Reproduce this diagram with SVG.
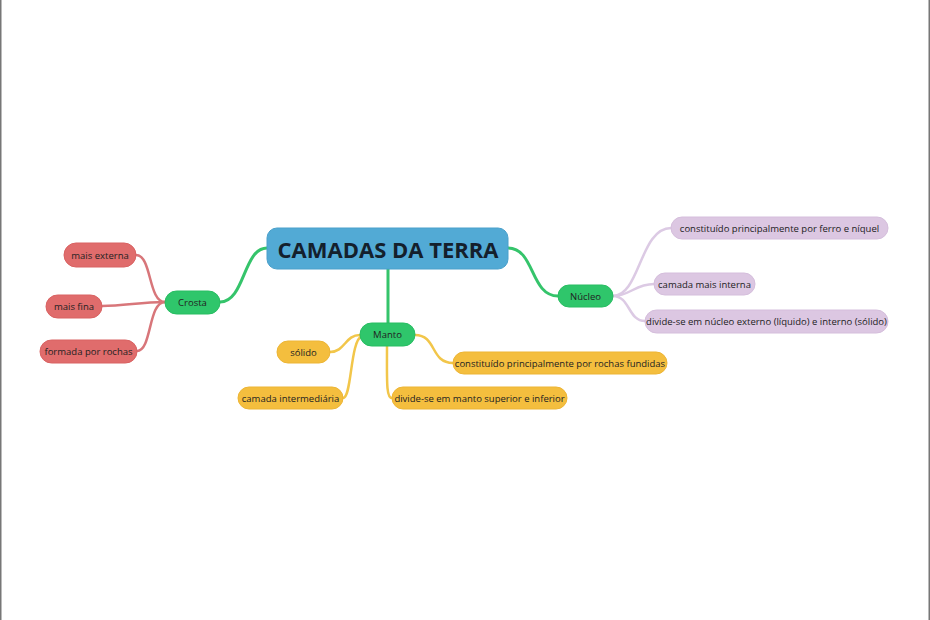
<svg xmlns="http://www.w3.org/2000/svg" width="930" height="620" viewBox="0 0 930 620">
<style>
  text { font-family: "Open Sans", "Noto Sans", "DejaVu Sans", sans-serif; fill: #222; text-anchor: middle; }
  .t { font-size: 9.5px; }
  .title { font-size: 22px; font-weight: bold; fill: #14202c; }
  .red { fill: #E06C6C; stroke: #D96262; stroke-width: 1; }
  .yel { fill: #F4BE3E; stroke: #EDB535; stroke-width: 1; }
  .pur { fill: #DCC7E2; stroke: #D5BEDC; stroke-width: 1; }
  .grn { fill: #2FC66B; stroke: #28BD62; stroke-width: 1; }
  .ctr { fill: #52AAD5; stroke: #4AA0CB; stroke-width: 1; }
  .c { fill: none; stroke-linecap: round; }
  .cg { stroke: #35C46B; stroke-width: 3; }
  .cr { stroke: #D8767A; stroke-width: 2.5; }
  .cy { stroke: #F2C64A; stroke-width: 2.5; }
  .cp { stroke: #DCCAE4; stroke-width: 2.5; }
</style>
<rect x="0" y="0" width="930" height="620" fill="#ffffff"/>
<line x1="0.75" y1="0" x2="0.75" y2="620" stroke="#777" stroke-width="1.5"/>
<line x1="929.25" y1="0" x2="929.25" y2="620" stroke="#777" stroke-width="1.5"/>

<g id="connectors">
  <path class="c cg" d="M267,248 C243,248 245,302 220,302"/>
  <path class="c cg" d="M388,269 L388,323"/>
  <path class="c cg" d="M508,248 C535,248 530,296 558,296"/>

  <path class="c cr" d="M165,302 C148,302 152,255 136,255"/>
  <path class="c cr" d="M165,302 C140,302 125,306 102,306"/>
  <path class="c cr" d="M165,302 C148,302 152,351 137,351"/>

  <path class="c cy" d="M360,335 C345,335 345,352 330,352"/>
  <path class="c cy" d="M362,336 C350,340 352,398 343,398"/>
  <path class="c cy" d="M415,335 C437,335 430,363 453,363"/>
  <path class="c cy" d="M387,346 C387,380 386,398 392,398"/>

  <path class="c cp" d="M613,296 C640,296 640,228 671,228"/>
  <path class="c cp" d="M613,296 C630,296 635,284 654,284"/>
  <path class="c cp" d="M613,296 C630,296 628,321 645,321"/>
</g>

<g id="central">
  <rect class="ctr" x="267" y="228" width="241" height="41" rx="10"/>
  <text class="title" x="388" y="257.5">CAMADAS DA TERRA</text>
</g>

<g id="crosta">
  <rect class="grn" x="165" y="291" width="55" height="23" rx="11.5"/>
  <text class="t" x="192.5" y="306">Crosta</text>
</g>
<g id="mais-externa">
  <rect class="red" x="64" y="243" width="72" height="24" rx="12"/>
  <text class="t" x="100" y="258.5">mais externa</text>
</g>
<g id="mais-fina">
  <rect class="red" x="46" y="295" width="56" height="23" rx="11.5"/>
  <text class="t" x="74" y="310">mais fina</text>
</g>
<g id="formada-por-rochas">
  <rect class="red" x="40" y="340" width="97" height="23" rx="11.5"/>
  <text class="t" x="88.5" y="355">formada por rochas</text>
</g>

<g id="manto">
  <rect class="grn" x="360" y="323" width="55" height="23" rx="11.5"/>
  <text class="t" x="387.5" y="338">Manto</text>
</g>
<g id="solido">
  <rect class="yel" x="277" y="341" width="53" height="22" rx="11"/>
  <text class="t" x="303.5" y="355.5">sólido</text>
</g>
<g id="camada-intermediaria">
  <rect class="yel" x="238" y="387" width="105" height="22" rx="11"/>
  <text class="t" x="290.5" y="401.5">camada intermediária</text>
</g>
<g id="rochas-fundidas">
  <rect class="yel" x="453" y="352" width="214" height="22" rx="11"/>
  <text class="t" x="560" y="366.5">constituído principalmente por rochas fundidas</text>
</g>
<g id="manto-superior-inferior">
  <rect class="yel" x="392" y="387" width="175" height="22" rx="11"/>
  <text class="t" x="479.5" y="401.5">divide-se em manto superior e inferior</text>
</g>

<g id="nucleo">
  <rect class="grn" x="558" y="285" width="55" height="22" rx="11"/>
  <text class="t" x="585.5" y="299.5">Núcleo</text>
</g>
<g id="ferro-niquel">
  <rect class="pur" x="671" y="217" width="217" height="22" rx="11"/>
  <text class="t" x="779.5" y="231.5">constituído principalmente por ferro e níquel</text>
</g>
<g id="camada-mais-interna">
  <rect class="pur" x="654" y="273" width="101" height="22" rx="11"/>
  <text class="t" x="704.5" y="287.5">camada mais interna</text>
</g>
<g id="nucleo-externo-interno">
  <rect class="pur" x="645" y="310" width="243" height="23" rx="11.5"/>
  <text class="t" x="766.5" y="325">divide-se em núcleo externo (líquido) e interno (sólido)</text>
</g>
</svg>
